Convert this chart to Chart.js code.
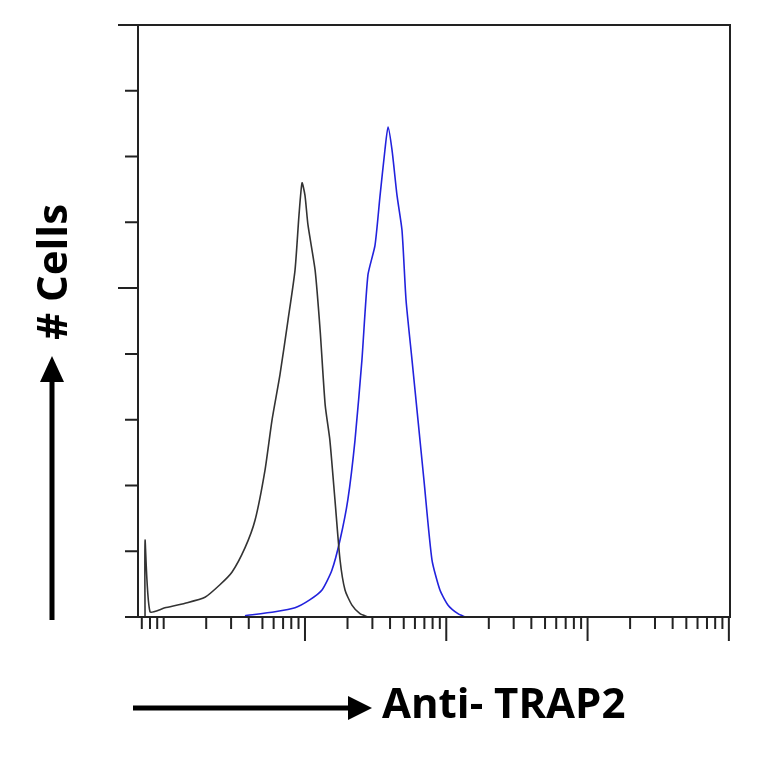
<!DOCTYPE html>
<html lang="en">
<head>
<meta charset="UTF-8">
<title>Anti- TRAP2</title>
<script src="https://cdn.jsdelivr.net/npm/chart.js@4"></script>
<style>
  body { margin: 0; background: #fff; }
  #wrap { width: 764px; height: 764px; }
</style>
</head>
<body>
<div id="wrap"><canvas id="c"></canvas></div>
<script>
// control (black) and anti-TRAP2 (blue) histograms, x = fluorescence, y = cells
const controlX = [0.738, 0.738, 0.80, 1.02, 1.42, 1.96, 2.50, 3.04, 3.76, 4.43, 5.21, 5.84, 6.65, 7.58, 8.50, 9.07, 9.53, 10.0, 10.5, 11.8, 12.8, 13.9, 15.0, 16.3, 17.7, 19.2, 21.5, 24.5, 27.9];
const controlY = [0, 1.17, 0.08, 0.14, 0.21, 0.30, 0.49, 0.68, 1.05, 1.47, 2.23, 2.99, 3.68, 4.51, 5.27, 6.11, 6.60, 6.41, 5.96, 5.27, 4.36, 3.22, 2.69, 1.78, 0.87, 0.41, 0.18, 0.05, 0];
const trapX = [3.76, 6.14, 8.50, 10.8, 13.2, 15.5, 17.7, 20.1, 22.6, 25.3, 27.9, 31.3, 34.0, 36.8, 38.7, 41.3, 44.8, 48.6, 51.9, 57.2, 63.1, 69.5, 79.2, 90.2, 103, 121, 136];
const trapY = [0.02, 0.08, 0.14, 0.26, 0.41, 0.71, 1.17, 1.78, 2.69, 3.91, 5.20, 5.65, 6.41, 7.10, 7.45, 7.10, 6.41, 5.88, 4.82, 3.91, 2.99, 2.08, 0.87, 0.41, 0.18, 0.05, 0];
const yTicks = [0, 1, 2, 3, 4, 5, 6, 7, 8, 9];
const yMajor = [5, 9];
const xMinorStart = [0.7, 0.8, 0.9];
const decades = [1, 10, 100, 1000, 10000];
const xTitle = 'Anti- TRAP2';
const yTitle = '# Cells';

const pts = (xs, ys) => xs.map((x, i) => ({ x: x, y: ys[i] }));

const frame = {
  id: 'frame',
  afterDraw(chart) {
    const ctx = chart.ctx, a = chart.chartArea;
    const xs = chart.scales.x, ys = chart.scales.y;
    ctx.save();
    ctx.strokeStyle = '#222';
    ctx.lineWidth = 2;
    ctx.strokeRect(a.left, a.top, a.right - a.left, a.bottom - a.top);
    ctx.beginPath();
    yTicks.forEach(v => {
      const p = ys.getPixelForValue(v);
      const len = yMajor.includes(v) ? 20 : 13;
      ctx.moveTo(a.left - len, p); ctx.lineTo(a.left, p);
    });
    const xt = xMinorStart.map(v => [v, 12]);
    for (let d = 0; d < decades.length - 1; d++) {
      for (let k = 1; k <= 9; k++) xt.push([decades[d] * k, (k === 1 && d > 0) ? 24 : 12]);
    }
    xt.push([decades[decades.length - 1], 24]);
    xt.forEach(([v, len]) => {
      const p = xs.getPixelForValue(v);
      ctx.moveTo(p, a.bottom); ctx.lineTo(p, a.bottom + len);
    });
    ctx.stroke();

    // arrows
    ctx.fillStyle = '#000'; ctx.strokeStyle = '#000'; ctx.lineWidth = 5;
    ctx.beginPath(); ctx.moveTo(133, 708); ctx.lineTo(352, 708); ctx.stroke();
    ctx.beginPath(); ctx.moveTo(372, 708); ctx.lineTo(348, 696); ctx.lineTo(348, 720); ctx.closePath(); ctx.fill();
    ctx.beginPath(); ctx.moveTo(52, 620); ctx.lineTo(52, 378); ctx.stroke();
    ctx.beginPath(); ctx.moveTo(52, 356); ctx.lineTo(40, 382); ctx.lineTo(64, 382); ctx.closePath(); ctx.fill();

    ctx.font = 'bold 42px "Open Sans", sans-serif';
    ctx.textBaseline = 'middle';
    ctx.textAlign = 'left';
    ctx.fillText(xTitle, 382, 706);
    ctx.translate(55, 272);
    ctx.rotate(-Math.PI / 2);
    ctx.textAlign = 'center';
    ctx.fillText(yTitle, 0, 0);
    ctx.restore();
  }
};

new Chart(document.getElementById('c'), {
  type: 'line',
  data: {
    datasets: [
      { data: pts(controlX, controlY), borderColor: '#333', borderWidth: 1.6, pointRadius: 0, tension: 0.2 },
      { data: pts(trapX, trapY), borderColor: '#2222dd', borderWidth: 1.6, pointRadius: 0, tension: 0.2 }
    ]
  },
  options: {
    responsive: true,
    maintainAspectRatio: false,
    animation: false,
    layout: { padding: { left: 138, top: 25, right: 34, bottom: 147 } },
    plugins: { legend: { display: false }, tooltip: { enabled: false } },
    scales: {
      x: { type: 'logarithmic', min: 0.658, max: 10186, display: false },
      y: { type: 'linear', min: 0, max: 9, display: false }
    }
  },
  plugins: [frame]
});
</script>
</body>
</html>
